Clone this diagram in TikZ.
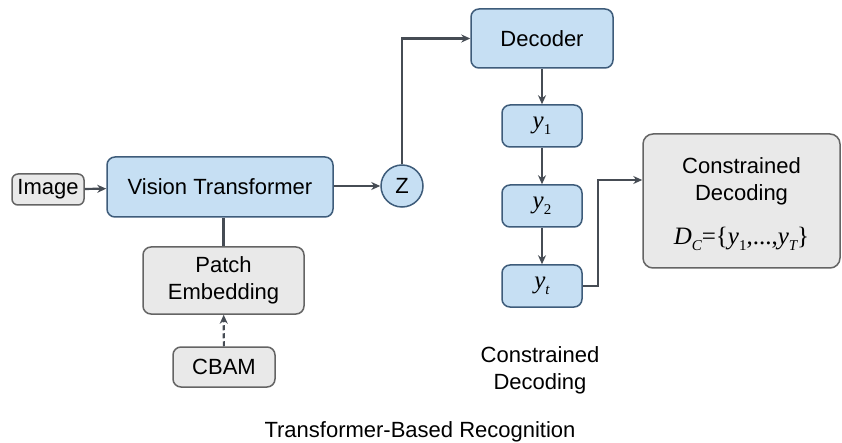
\documentclass[tikz,border=0pt]{standalone}
\usepackage{fontspec}
\setmainfont{Liberation Sans}
\newfontfamily\tms{Liberation Serif}
\usetikzlibrary{arrows.meta}
\definecolor{bfill}{RGB}{198,223,243}
\definecolor{bdraw}{RGB}{62,92,122}
\definecolor{gfill}{RGB}{233,233,233}
\definecolor{gdraw}{RGB}{100,100,100}
\definecolor{lcol}{RGB}{70,76,84}
\newcommand{\yv}[1]{{\tms\fontsize{25}{25}\selectfont\itshape y}\raisebox{-6pt}{\tms\fontsize{15}{15}\selectfont #1}}
\tikzset{
  bluebox/.style={draw=bdraw, fill=bfill, line width=1.5pt, rounded corners=8pt, inner sep=0pt, align=center},
  graybox/.style={draw=gdraw, fill=gfill, line width=1.5pt, rounded corners=8pt, inner sep=0pt, align=center},
  conn/.style={draw=lcol, line width=2.2pt, -{Stealth[length=9pt,width=8pt]}},
  plainconn/.style={draw=lcol, line width=2.2pt},
}
\begin{document}
\begin{tikzpicture}[x=1pt,y=-1pt, font=\fontsize{22}{27}\selectfont]
\useasboundingbox[fill=white] (0,0) rectangle (842,443);
\node[graybox, minimum width=72pt, minimum height=31pt, rounded corners=6pt] (img) at (48,189.5) {Image};
\node[bluebox, minimum width=226pt, minimum height=60pt] (vt) at (220,187) {Vision Transformer};
\node[bluebox, circle, minimum size=42pt] (z) at (402,186) {Z};
\node[graybox, minimum width=161pt, minimum height=67pt] (pe) at (223.5,280.5) {Patch\\Embedding};
\node[graybox, minimum width=102pt, minimum height=40pt] (cbam) at (224,367) {CBAM};
\node[bluebox, minimum width=142pt, minimum height=59pt] (dec) at (542,38.5) {Decoder};
\node[bluebox, minimum width=80pt, minimum height=42pt] (y1) at (542,126) {\yv{1}};
\node[bluebox, minimum width=80pt, minimum height=42pt] (y2) at (542,206) {\yv{2}};
\node[bluebox, minimum width=80pt, minimum height=42pt] (yt) at (542,286) {\yv{\itshape t}};
\node[graybox, minimum width=197pt, minimum height=134pt, rounded corners=10pt] (cd) at (741.5,201) {};
\node[align=center, inner sep=0pt] (cdt) at (741.5,181) {Constrained\\Decoding};
\node[inner sep=0pt] (cdf) at (741.5,239) {\tms\fontsize{25}{25}\selectfont\itshape D\raisebox{-6pt}{\fontsize{15}{15}\selectfont C}\upshape=\{\itshape y\raisebox{-6pt}{\upshape\fontsize{15}{15}\selectfont 1}\upshape,...,\itshape y\raisebox{-6pt}{\fontsize{15}{15}\selectfont T}\upshape\}};
\node[align=center, inner sep=0pt] (lab) at (540,370) {Constrained\\Decoding};
\node[inner sep=0pt] (title) at (420,432) {Transformer-Based Recognition};
\coordinate (zup) at (402,38.5);
\coordinate (ytr) at (598,286);
\coordinate (ytu) at (598,180);
\draw[conn] (img) -- (vt);
\draw[conn] (z.west -| vt.east) -- (z.west);
\draw[plainconn] (vt.south -| pe.north) -- (pe.north);
\draw[conn, dashed, dash pattern=on 5pt off 3pt] (cbam) -- (pe);
\draw[conn] (z.north) -- (zup) -- (dec.west);
\draw[conn] (dec) -- (y1);
\draw[conn] (y1) -- (y2);
\draw[conn] (y2) -- (yt);
\draw[conn] (yt.east) -- (ytr) -- (ytu) -- (ytu -| cd.west);
\end{tikzpicture}
\end{document}
